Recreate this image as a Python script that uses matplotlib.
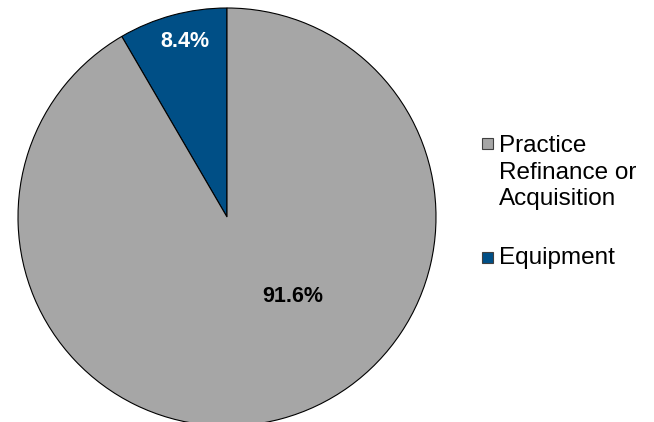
import matplotlib
matplotlib.use("Agg")
import matplotlib.pyplot as plt
from matplotlib.patches import Rectangle

categories = ["Equipment", "Practice\nRefinance or\nAcquisition"]
values = [8.4, 91.6]
colors = ["#004F86", "#A6A6A6"]
label_colors = ["white", "black"]
legend_order = [1, 0]

plt.rcParams['font.family'] = ['Liberation Sans', 'DejaVu Sans']

W, H = 654, 422
fig = plt.figure(figsize=(W / 100, H / 100), dpi=100)
cx, cy, r = 227, 217, 209
ax = fig.add_axes([(cx - r) / W, (H - cy - r) / H, 2 * r / W, 2 * r / H])
wedges, texts, autotexts = ax.pie(
    values, colors=colors, startangle=90, counterclock=True,
    autopct=lambda p: f"{p:.1f}%", pctdistance=0.85,
    wedgeprops=dict(edgecolor="black", linewidth=0.8),
    textprops=dict(fontsize=15.5, fontweight="bold"))
for t, c in zip(autotexts, label_colors):
    t.set_color(c)
autotexts[1].set_position((0.316, -0.38))
autotexts[0].set_position((-0.199, 0.838))
ax.set_xlim(-1, 1)
ax.set_ylim(-1, 1)
ax.set_aspect('auto')

tops = [138, 252]
spacings = [1.27, 1.27]
offsets = [3, 5]
for k, i in enumerate(legend_order):
    y = tops[k]
    fig.patches.append(Rectangle((482 / W, 1 - (y + 11) / H), 11 / W, 11 / H,
                                 transform=fig.transFigure, facecolor=colors[i],
                                 edgecolor="#404040", linewidth=0.8))
    fig.text(499 / W, 1 - (y - offsets[k]) / H, categories[i], fontsize=17.5,
             va="top", ha="left", linespacing=spacings[k])

fig.savefig("out.png", dpi=100)
